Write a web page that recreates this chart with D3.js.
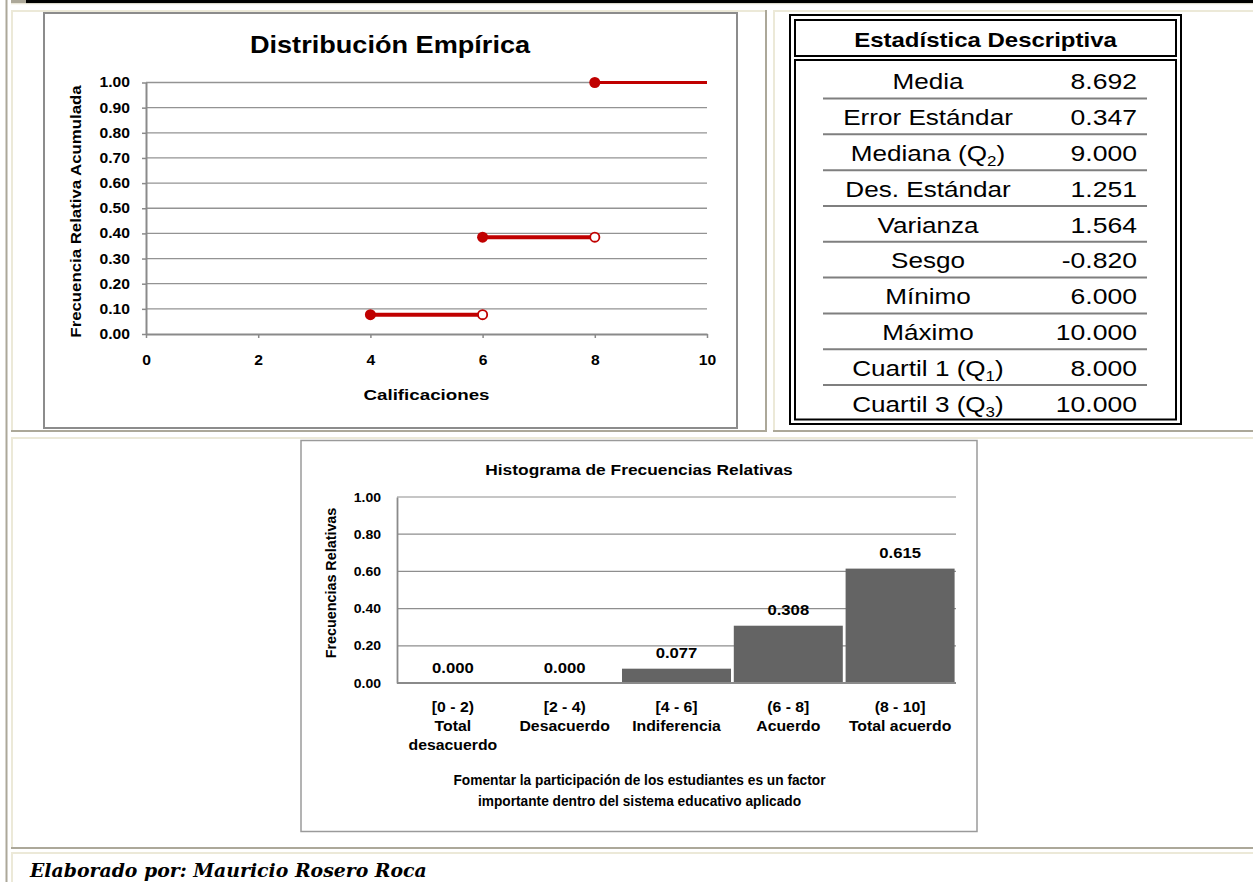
<!DOCTYPE html>
<html>
<head>
<meta charset="utf-8">
<script src="https://cdn.jsdelivr.net/npm/d3@7"></script>
<style>
  html, body { margin: 0; padding: 0; background: #ffffff; overflow: hidden; }
  svg { display: block; }
</style>
</head>
<body>
<script>
// ---------------- DATA ----------------
// Empirical distribution (step function)
const ecdfStart = [4, 6, 8];
const ecdfEnd = [6, 8, 10];
const ecdfValue = [0.077, 0.385, 1.0];
const ecdfOpenEnd = [true, true, false];
const ecdfYTicks = [0, 0.1, 0.2, 0.3, 0.4, 0.5, 0.6, 0.7, 0.8, 0.9, 1.0];
const ecdfXTicks = [0, 2, 4, 6, 8, 10];

// Descriptive statistics table
const statLabels = ["Media", "Error Estándar", "Mediana (Q|2)", "Des. Estándar", "Varianza",
                    "Sesgo", "Mínimo", "Máximo", "Cuartil 1 (Q|1)", "Cuartil 3 (Q|3)"];
const statValues = ["8.692", "0.347", "9.000", "1.251", "1.564",
                    "-0.820", "6.000", "10.000", "8.000", "10.000"];

// Histogram of relative frequencies
const histRanges = ["[0 - 2)", "[2 - 4)", "[4 - 6]", "(6 - 8]", "(8 - 10]"];
const histNames = [["Total", "desacuerdo"], ["Desacuerdo"], ["Indiferencia"], ["Acuerdo"], ["Total acuerdo"]];
const histValues = [0.000, 0.000, 0.077, 0.308, 0.615];
const histYTicks = [0, 0.2, 0.4, 0.6, 0.8, 1.0];

// ---------------- DRAW ----------------
const W = 1253, H = 882;
const SANS = "'Liberation Sans', Arial, Helvetica, sans-serif";
const svg = d3.select("body").append("svg").attr("width", W).attr("height", H);
svg.append("rect").attr("width", W).attr("height", H).attr("fill", "#ffffff");

function txt(g, x, y, s, o) {
  o = o || {};
  const size = o.size || 13;
  const t = g.append("text")
    .attr("transform", `translate(${x},${y})` + (o.rotate ? ` rotate(${o.rotate})` : "") + ` scale(${o.sx || 1},1)`)
    .attr("text-anchor", o.anchor || "middle")
    .attr("font-family", o.family || SANS)
    .attr("font-size", size)
    .attr("font-weight", o.weight || "bold")
    .attr("font-style", o.style || "normal")
    .attr("fill", o.fill || "#000");
  // "Text (Q|2)" -> subscript 2
  if (s.includes("|")) {
    const parts = s.split("|");
    t.append("tspan").text(parts[0]);
    t.append("tspan").attr("font-size", size * 0.65).attr("dy", size * 0.22).text(parts[1][0]);
    t.append("tspan").attr("dy", -size * 0.22).text(parts[1].slice(1) || ")");
  } else {
    t.text(s);
  }
  return t;
}

// ---- page / table cell decorations ----
const LIGHT = "#ece9d8", DARK = "#aca899";
svg.append("line").attr("x1", 6.5).attr("x2", 6.5).attr("y1", 0).attr("y2", H).attr("stroke", DARK).attr("stroke-width", 2);
svg.append("rect").attr("x", 11).attr("y", 0).attr("width", 15).attr("height", 3.3).attr("fill", DARK);
svg.append("rect").attr("x", 26).attr("y", 0).attr("width", W - 26).attr("height", 3.3).attr("fill", "#000");
svg.append("rect").attr("x", 11).attr("y", 3.3).attr("width", W - 11).attr("height", 1).attr("fill", LIGHT);

function cell(x0, y0, x1, y1) {
  const g = svg.append("g");
  g.append("line").attr("x1", x0).attr("x2", x1).attr("y1", y0 + 1).attr("y2", y0 + 1).attr("stroke", LIGHT).attr("stroke-width", 2);
  g.append("line").attr("x1", x0 + 1).attr("x2", x0 + 1).attr("y1", y0).attr("y2", y1).attr("stroke", LIGHT).attr("stroke-width", 2);
  g.append("line").attr("x1", x1 - 1).attr("x2", x1 - 1).attr("y1", y0).attr("y2", y1).attr("stroke", DARK).attr("stroke-width", 2);
  g.append("line").attr("x1", x0).attr("x2", x1).attr("y1", y1 - 1).attr("y2", y1 - 1).attr("stroke", DARK).attr("stroke-width", 2);
}
cell(11, 10, 767, 432);
cell(773, 10, 1260, 432);
cell(11, 437, 1260, 849);
cell(11, 852, 1260, 890);

// ================= LEFT CHART: Distribución Empírica =================
const gL = svg.append("g");
gL.append("rect").attr("x", 44).attr("y", 13).attr("width", 693).attr("height", 415)
  .attr("fill", "#fff").attr("stroke", "#8c8c8c").attr("stroke-width", 2);

const xL = d3.scaleLinear().domain([0, 10]).range([146, 707]);
const yL = d3.scaleLinear().domain([0, 1]).range([334, 82.5]);

// gridlines
gL.append("g").selectAll("line").data(ecdfYTicks.filter(d => d > 0)).join("line")
  .attr("x1", xL(0)).attr("x2", xL(10)).attr("y1", d => yL(d)).attr("y2", d => yL(d))
  .attr("stroke", "#939393").attr("stroke-width", 1.3);

const SXL = 1.12;
const axYL = gL.append("g").attr("transform", `translate(${xL(0)},0)`)
  .call(d3.axisLeft(yL).tickValues(ecdfYTicks).tickSize(4).tickSizeOuter(0).tickFormat(d3.format(".2f")));
const axXL = gL.append("g").attr("transform", `translate(0,${yL(0)})`)
  .call(d3.axisBottom(xL).tickValues(ecdfXTicks).tickSize(4).tickSizeOuter(0).tickFormat(d3.format("d")));
[axYL, axXL].forEach(a => {
  a.select(".domain").attr("stroke", "#8a8a8a").attr("stroke-width", 2);
  a.selectAll(".tick line").attr("stroke", "#8a8a8a").attr("stroke-width", 1.5);
  a.selectAll("text").attr("font-family", SANS).attr("font-size", 14).attr("font-weight", "bold").attr("fill", "#000");
});
axYL.selectAll("text").attr("x", -16 / SXL).attr("transform", `scale(${SXL},1)`);
axXL.selectAll("text").attr("y", 31).attr("dy", null).attr("transform", `scale(${SXL},1)`);

// title & axis titles
txt(gL, 390, 53, "Distribución Empírica", { size: 24, sx: 1.13 });
txt(gL, 426.5, 400, "Calificaciones", { size: 15.5, sx: 1.21 });
txt(gL, 81, 211.5, "Frecuencia Relativa Acumulada", { size: 14, sx: 1.2, rotate: -90 });

// step segments
const RED = "#c00000";
const steps = ecdfStart.map((s, i) => ({ s, e: ecdfEnd[i], v: ecdfValue[i], open: ecdfOpenEnd[i] }));
gL.append("g").selectAll("line").data(steps).join("line")
  .attr("x1", d => xL(d.s)).attr("x2", d => xL(d.e)).attr("y1", d => yL(d.v)).attr("y2", d => yL(d.v))
  .attr("stroke", RED).attr("stroke-width", d => d.open ? 4 : 3);
gL.append("g").selectAll("circle").data(steps).join("circle")
  .attr("cx", d => xL(d.s)).attr("cy", d => yL(d.v)).attr("r", 5.5).attr("fill", RED);
gL.append("g").selectAll("circle").data(steps.filter(d => d.open)).join("circle")
  .attr("cx", d => xL(d.e)).attr("cy", d => yL(d.v)).attr("r", 4.6)
  .attr("fill", "#fff").attr("stroke", RED).attr("stroke-width", 1.8);

// ================= TABLE: Estadística Descriptiva =================
const gT = svg.append("g");
gT.append("rect").attr("x", 790).attr("y", 15).attr("width", 391).attr("height", 409)
  .attr("fill", "none").attr("stroke", "#000").attr("stroke-width", 2);
gT.append("rect").attr("x", 795).attr("y", 20).attr("width", 381).attr("height", 36)
  .attr("fill", "none").attr("stroke", "#000").attr("stroke-width", 2);
gT.append("rect").attr("x", 795).attr("y", 60).attr("width", 381).attr("height", 359.5)
  .attr("fill", "none").attr("stroke", "#000").attr("stroke-width", 2);
txt(gT, 985.5, 46.5, "Estadística Descriptiva", { size: 20, sx: 1.2 });

const rowY = d3.scaleLinear().domain([0, 9]).range([89.3, 411.7]);
statLabels.forEach((lab, i) => {
  txt(gT, 928, rowY(i), lab, { size: 22.5, weight: "normal", sx: 1.16 });
  txt(gT, 1137, rowY(i), statValues[i], { size: 22.5, weight: "normal", sx: 1.18, anchor: "end" });
  if (i < statLabels.length - 1) {
    const ly = rowY(i) + 9.2;
    gT.append("line").attr("x1", 823).attr("x2", 1147).attr("y1", ly).attr("y2", ly)
      .attr("stroke", "#7f7f7f").attr("stroke-width", 2);
  }
});

// ================= HISTOGRAM =================
const gH = svg.append("g");
gH.append("rect").attr("x", 301).attr("y", 440.5).attr("width", 676).attr("height", 391)
  .attr("fill", "#fff").attr("stroke", "#9a9a9a").attr("stroke-width", 1.5);

const xH = d3.scaleBand().domain(histRanges).range([397, 956]).paddingInner(0.025).paddingOuter(0.0125);
const yH = d3.scaleLinear().domain([0, 1]).range([683, 497]);

gH.append("g").selectAll("line").data(histYTicks.filter(d => d > 0)).join("line")
  .attr("x1", 397).attr("x2", 956).attr("y1", d => yH(d)).attr("y2", d => yH(d))
  .attr("stroke", "#8e8e8e").attr("stroke-width", 1.2);

const SXH = 1.08;
const axYH = gH.append("g").attr("transform", "translate(397,0)")
  .call(d3.axisLeft(yH).tickValues(histYTicks).tickSize(0).tickSizeOuter(0).tickFormat(d3.format(".2f")));
axYH.select(".domain").attr("stroke", "#8a8a8a").attr("stroke-width", 1.8);
axYH.selectAll("text").attr("font-family", SANS).attr("font-size", 13).attr("font-weight", "bold").attr("fill", "#000")
  .attr("x", -16 / SXH).attr("transform", `scale(${SXH},1)`);

// bars
gH.append("g").selectAll("rect").data(histValues).join("rect")
  .attr("x", (d, i) => xH(histRanges[i])).attr("width", xH.bandwidth())
  .attr("y", d => yH(d)).attr("height", d => yH(0) - yH(d)).attr("fill", "#646464");

const axXH = gH.append("g").attr("transform", `translate(0,${yH(0)})`)
  .call(d3.axisBottom(xH).tickSize(0).tickSizeOuter(0).tickFormat(""));
axXH.select(".domain").attr("stroke", "#8a8a8a").attr("stroke-width", 2).attr("d", `M397,0H956`);

// value labels
histValues.forEach((v, i) => {
  const cx = xH(histRanges[i]) + xH.bandwidth() / 2;
  txt(gH, cx, yH(v) - 10.5, d3.format(".3f")(v), { size: 14.5, sx: 1.15 });
});

// category labels
histRanges.forEach((r, i) => {
  const cx = xH(r) + xH.bandwidth() / 2;
  [r].concat(histNames[i]).forEach((line, k) => {
    txt(gH, cx, 712 + 19 * k, line, { size: 14, sx: 1.13 });
  });
});

txt(gH, 639, 475, "Histograma de Frecuencias Relativas", { size: 15.5, sx: 1.12 });
txt(gH, 336, 583, "Frecuencias Relativas", { size: 14.5, sx: 0.99, rotate: -90 });
txt(gH, 639.5, 785, "Fomentar la participación de los estudiantes es un factor", { size: 14, sx: 0.98 });
txt(gH, 639.5, 806, "importante dentro del sistema educativo aplicado", { size: 14, sx: 0.98 });

// ================= FOOTER =================
txt(svg, 30, 877, "Elaborado por: Mauricio Rosero Roca",
  { size: 18.5, sx: 1.02, anchor: "start", style: "italic", family: "'DejaVu Serif', 'Liberation Serif', serif" });
</script>
</body>
</html>
